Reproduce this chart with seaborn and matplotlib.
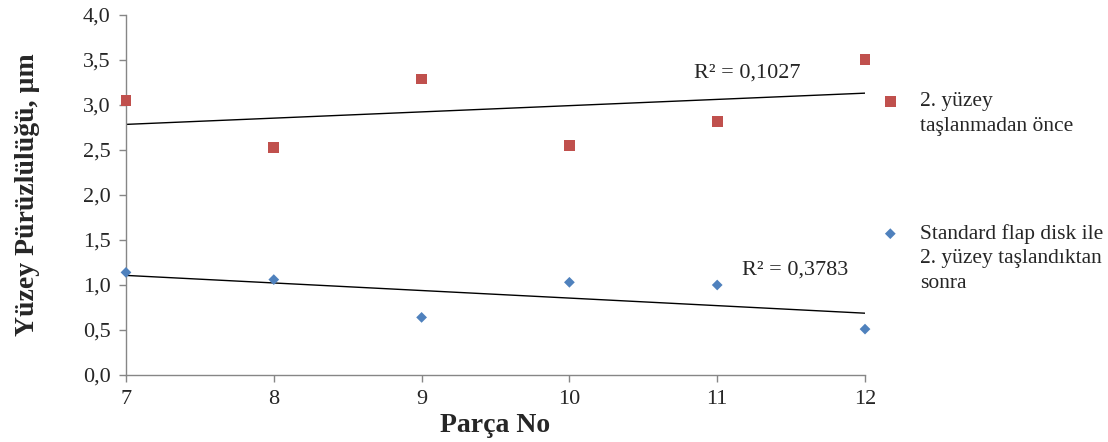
import numpy as np
import pandas as pd
import seaborn as sns
import matplotlib.pyplot as plt
from matplotlib.ticker import FuncFormatter, MultipleLocator

parca_no = [7, 8, 9, 10, 11, 12]
once = [3.05, 2.53, 3.29, 2.55, 2.82, 3.51]
sonra = [1.14, 1.06, 0.64, 1.03, 1.00, 0.51]
label_once = "2. yüzey\ntaşlanmadan önce"
label_sonra = "Standard flap disk ile\n2. yüzey taşlandıktan\nsonra"
r2_once = "R² = 0,1027"
r2_sonra = "R² = 0,3783"

red = "#C0504D"
blue = "#4F81BD"
axis_grey = "#868686"

sns.set_theme(style="white")
plt.rcParams["font.family"] = ["Liberation Serif", "DejaVu Serif"]

df = pd.DataFrame({"parca": parca_no, "once": once, "sonra": sonra})

fig = plt.figure(figsize=(11.08, 4.42), dpi=100)
ax = fig.add_axes([0.1137, 0.1516, 0.667, 0.8144])

sns.scatterplot(data=df, x="parca", y="once", marker="s", s=60, color=red,
                edgecolor="none", ax=ax, label=label_once, zorder=3, clip_on=False)
sns.scatterplot(data=df, x="parca", y="sonra", marker="D", s=30, color=blue,
                edgecolor="none", ax=ax, label=label_sonra, zorder=3, clip_on=False)
sns.regplot(data=df, x="parca", y="once", scatter=False, ci=None, color="black",
            line_kws={"lw": 1}, ax=ax)
sns.regplot(data=df, x="parca", y="sonra", scatter=False, ci=None, color="black",
            line_kws={"lw": 1}, ax=ax)

ax.text(10.84, 3.36, r2_once, fontsize=16, va="center", ha="left")
ax.text(11.17, 1.17, r2_sonra, fontsize=16, va="center", ha="left")

ax.set_xlim(7, 12)
ax.set_ylim(0, 4)
ax.xaxis.set_major_locator(MultipleLocator(1))
ax.yaxis.set_major_locator(MultipleLocator(0.5))
ax.yaxis.set_major_formatter(FuncFormatter(lambda v, p: f"{v:.1f}".replace(".", ",")))
ax.tick_params(axis="both", direction="out", length=5, width=1, color=axis_grey,
               labelsize=16, pad=6, bottom=True, left=True)

for side in ["top", "right"]:
    ax.spines[side].set_visible(False)
for side in ["left", "bottom"]:
    ax.spines[side].set_color(axis_grey)
    ax.spines[side].set_linewidth(1)

ax.set_xlabel("Parça No", fontsize=20, fontweight="bold", labelpad=3)
ax.set_ylabel("Yüzey Pürüzlülüğü, µm", fontsize=20, fontweight="bold", labelpad=31)

leg = ax.legend(loc="upper left", bbox_to_anchor=(1.008, 0.81), frameon=False,
                fontsize=15.5, labelspacing=4.1, handlelength=1.0,
                handletextpad=0.9, handleheight=1.0, borderaxespad=0)
for t in leg.get_texts():
    t.set_linespacing(1.4)
# put the marker next to the first line of each label, like the original
for column in leg._legend_handle_box.get_children():
    for row in column.get_children():
        row.align = "top"

fig.savefig("out.png", dpi=100)
